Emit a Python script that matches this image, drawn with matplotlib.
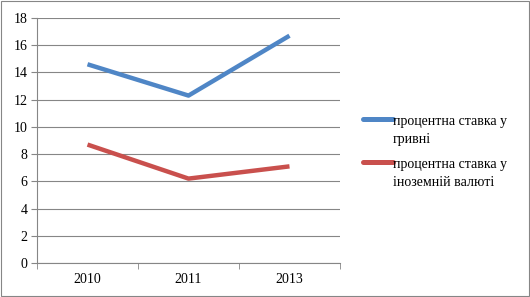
import matplotlib
matplotlib.use("Agg")
import matplotlib.pyplot as plt
from matplotlib.patches import Rectangle
from matplotlib.lines import Line2D

categories = ["2010", "2011", "2013"]
uah_rate = [14.6, 12.3, 16.7]
fx_rate = [8.7, 6.2, 7.1]
labels = ["процентна ставка у\nгривні", "процентна ставка у\nіноземній валюті"]
colors = ["#4f86c6", "#c9504d"]

plt.rcParams['font.family'] = ['Liberation Serif', 'DejaVu Serif']

fig = plt.figure(figsize=(5.30, 2.97), dpi=100)
ax = fig.add_axes([37/530, 1-263/297, (340-37)/530, (263-18)/297])

x = list(range(len(categories)))
ax.plot(x, uah_rate, color=colors[0], lw=3.2, solid_capstyle="butt")
ax.plot(x, fx_rate, color=colors[1], lw=3.2, solid_capstyle="butt")

ax.set_xlim(-0.5, len(categories) - 0.5)
ax.set_ylim(0, 18)
ax.set_yticks(range(0, 19, 2))
ax.set_xticks(x)
ax.set_xticklabels(categories)
ax.set_xticks([i - 0.5 for i in range(len(categories) + 1)], minor=True)
ax.tick_params(axis="x", which="major", length=0, labelsize=10, pad=7)
ax.tick_params(axis="x", which="minor", length=4, color="#868686")
ax.tick_params(axis="y", length=4, color="#868686", labelsize=10, pad=3, direction="out")
ax.grid(axis="y", color="#868686", lw=0.8)
ax.set_axisbelow(True)
for s in ["top", "right"]:
    ax.spines[s].set_visible(False)
for s in ["left", "bottom"]:
    ax.spines[s].set_color("#868686")
    ax.spines[s].set_linewidth(0.8)

# manual legend (handle aligned near the first text line, as in the reference)
leg_y = [119, 162]
for lab, col, yy in zip(labels, colors, leg_y):
    yf = 1 - yy / 297
    fig.add_artist(Line2D([363/530, 393/530], [yf, yf], transform=fig.transFigure,
                          color=col, lw=3.6, solid_capstyle="round"))
    fig.text(393/530, 1 - (yy - 4) / 297, lab, ha="left", va="top", fontsize=10,
             linespacing=1.45)

fig.patches.append(Rectangle((0.002, 0.003), 0.996, 0.994, transform=fig.transFigure,
                             fill=False, edgecolor="#868686", lw=0.8))

fig.savefig("out.png", dpi=100)
